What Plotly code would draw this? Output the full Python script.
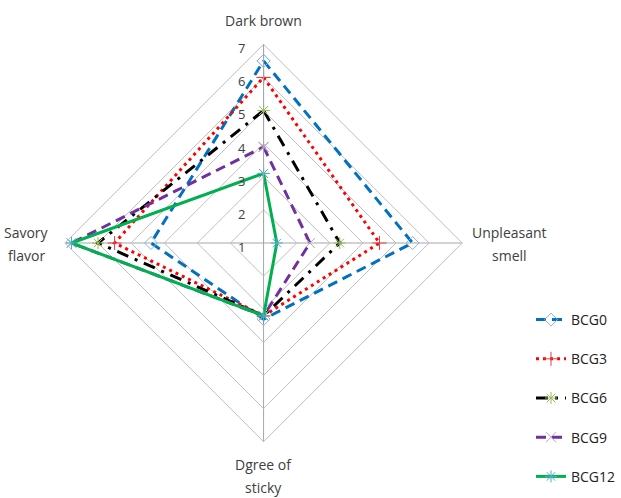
import plotly.graph_objects as go

# Sensory attributes (clockwise from the top) and panel scores per sample
categories = ["Dark brown", "Unpleasant smell", "Dgree of sticky", "Savory flavor"]
axis_label_lines = [["Dark brown"], ["Unpleasant", "smell"], ["Dgree of", "sticky"], ["Savory", "flavor"]]

bcg0 = [6.5, 5.5, 3.3, 4.4]
bcg3 = [6.0, 4.5, 3.2, 5.5]
bcg6 = [5.0, 3.3, 3.2, 6.0]
bcg9 = [3.9, 2.4, 3.2, 6.8]
bcg12 = [3.1, 1.4, 3.2, 6.8]

series_names = ["BCG0", "BCG3", "BCG6", "BCG9", "BCG12"]
series_values = [bcg0, bcg3, bcg6, bcg9, bcg12]

radial_ticks = [1, 2, 3, 4, 5, 6, 7]

styles = [
    dict(line=dict(color="#0070C0", width=3, dash="10px,6px"),
         marker=dict(symbol="diamond-open", size=10, color="#8DB4E2", line=dict(width=1))),
    dict(line=dict(color="#FF0000", width=3, dash="3px,4px"),
         marker=dict(symbol="cross-thin-open", size=10, color="#E04040", line=dict(width=1))),
    dict(line=dict(color="#000000", width=3, dash="12px,7px,3px,7px"),
         marker=dict(symbol="asterisk-open", size=10, color="#9BBB59", line=dict(width=1))),
    dict(line=dict(color="#7030A0", width=3, dash="10px,6px"),
         marker=dict(symbol="x-thin-open", size=10, color="#B3A2C7", line=dict(width=1))),
    dict(line=dict(color="#00B050", width=3),
         marker=dict(symbol="asterisk-open", size=10, color="#4BACC6", line=dict(width=1))),
]

fig = go.Figure()
for name, vals, st in zip(series_names, series_values, styles):
    fig.add_trace(go.Scatterpolar(
        r=vals + vals[:1],
        theta=categories + categories[:1],
        mode="lines+markers",
        name=name,
        legendgroup=name,
        line=st["line"],
        marker=st["marker"],
    ))

W, H = 621, 498
cx, cy, R = 264, 243, 199
rmin, rmax = radial_ticks[0], radial_ticks[-1]
font_family = "Open Sans, DejaVu Sans"

annotations = []

# Category names around the web
label_pos = [(264, 20), (510, 232), (264, 464), (27, 232)]
for lines, (lx, ly) in zip(axis_label_lines, label_pos):
    for i, t in enumerate(lines):
        annotations.append(dict(
            text=t, x=lx / W, y=1 - (ly + 23 * i) / H, xref="paper", yref="paper",
            showarrow=False, xanchor="center", yanchor="middle",
            font=dict(family=font_family, size=14, color="#404040"),
        ))

# Upright scale labels beside the vertical spoke
for v in radial_ticks:
    py = cy - (v - rmin) / (rmax - rmin) * R
    annotations.append(dict(
        text=str(v), x=(cx - 22) / W, y=1 - (py + 4) / H, xref="paper", yref="paper",
        showarrow=False, xanchor="center", yanchor="middle",
        font=dict(family=font_family, size=13, color="#404040"),
    ))

fig.update_layout(
    width=W, height=H,
    margin=dict(l=0, r=0, t=0, b=0),
    paper_bgcolor="white",
    plot_bgcolor="white",
    showlegend=True,
    legend=dict(
        x=532 / W, y=1 - 304 / H, xanchor="left", yanchor="top",
        traceorder="grouped", tracegroupgap=18,
        font=dict(family=font_family, size=14, color="#222222"),
        bgcolor="rgba(0,0,0,0)",
    ),
    polar=dict(
        domain=dict(x=[(cx - R) / W, (cx + R) / W], y=[1 - (cy + R) / H, 1 - (cy - R) / H]),
        bgcolor="white",
        gridshape="linear",
        radialaxis=dict(
            range=[rmin, rmax], tickvals=radial_ticks, angle=90,
            showline=True, linecolor="#A6A6A6", linewidth=1,
            gridcolor="#BFBFBF", gridwidth=1, ticks="",
            showticklabels=False,
        ),
        angularaxis=dict(
            direction="clockwise", rotation=90,
            showline=True, linecolor="#BFBFBF", linewidth=1,
            gridcolor="#A6A6A6", gridwidth=1, ticks="",
            showticklabels=False,
        ),
    ),
    annotations=annotations,
)

fig.write_html("out.html")
